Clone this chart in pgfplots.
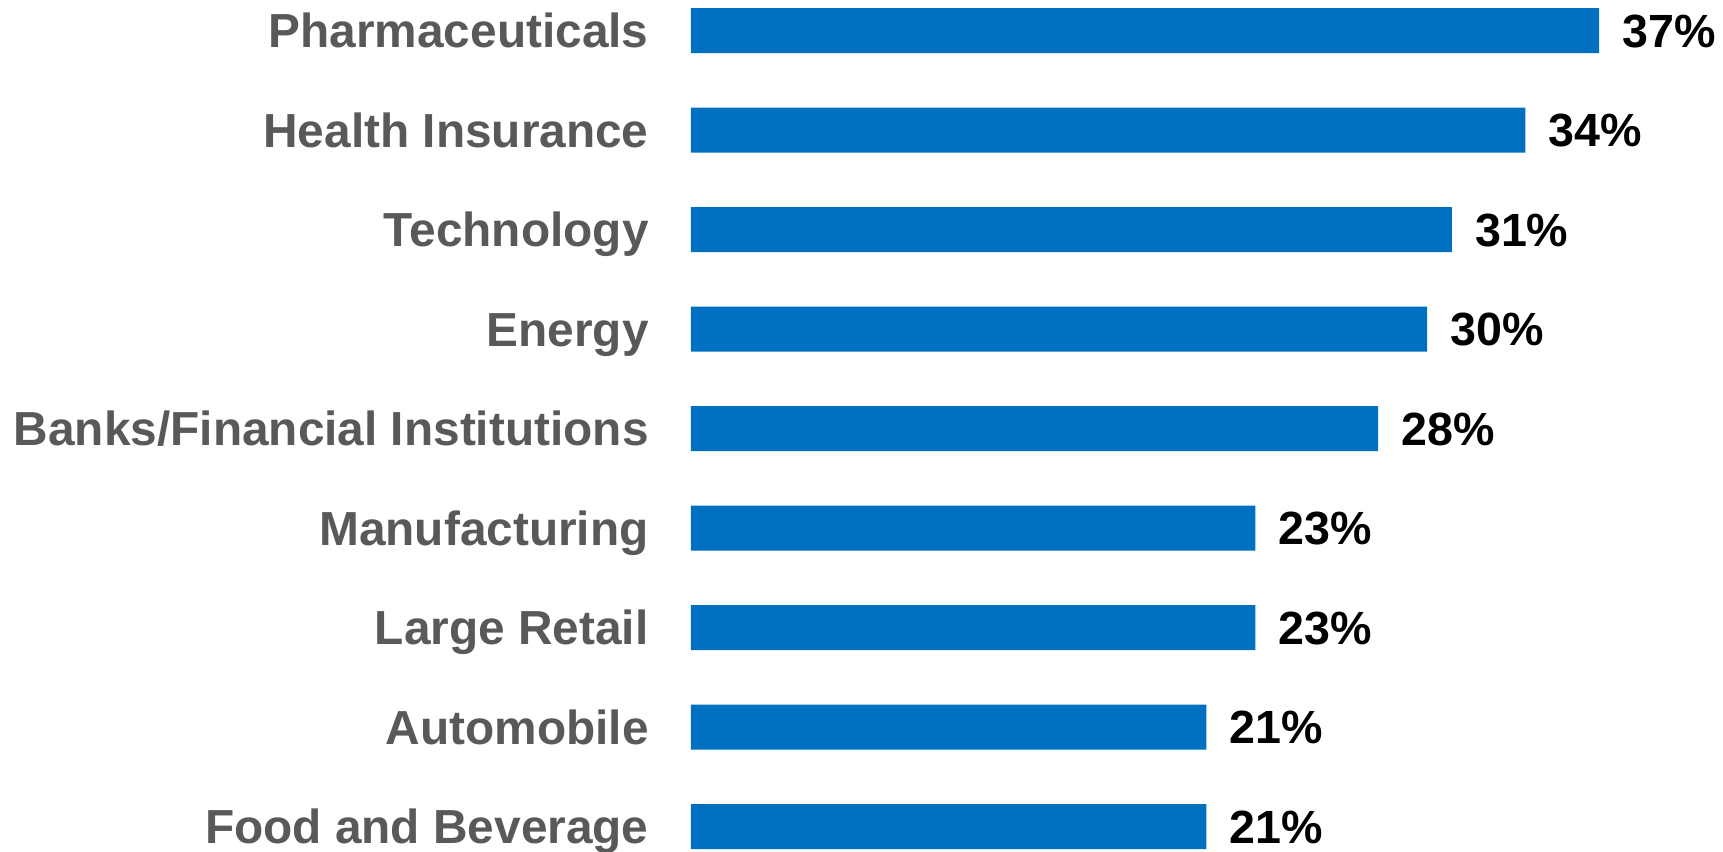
\documentclass[border=0pt]{standalone}
\usepackage{pgfplots}
\pgfplotsset{compat=1.18}
\usepackage{fontspec}
\setmainfont{Liberation Sans}
\usetikzlibrary{calc}
\definecolor{barblue}{HTML}{0070C0}
\definecolor{labgrey}{HTML}{595959}
\begin{document}
\begin{tikzpicture}
\begin{axis}[name=ax, scale only axis, width=454pt, height=425.5pt,
  xmin=0, xmax=37, ymin=-0.3065, ymax=8.246, y dir=reverse,
  xbar, bar width=22.5pt, clip=false,
  hide x axis,
  /pgf/number format/assume math mode=true,
  y axis line style={draw=none}, ytick style={draw=none}, major tick length=0pt,
  ytick={0,...,8},
  yticklabels={Pharmaceuticals,Health Insurance,Technology,Energy,Banks/Financial Institutions,Manufacturing,Large Retail,Automobile,Food and Beverage},
  yticklabel style={font=\fontsize{23.9}{28}\selectfont\bfseries, color=labgrey, inner sep=0pt, anchor=base east, xshift=-21pt, yshift=-8.5pt},
  point meta=x,
  nodes near coords={\pgfmathprintnumber{\pgfplotspointmeta}\%},
  nodes near coords style={font=\fontsize{23.3}{28}\selectfont\bfseries, color=black, inner sep=0pt, anchor=base west, xshift=11.5pt, yshift=-8.3pt},
]
\addplot[fill=barblue, draw=none] coordinates {(37,0) (34,1) (31,2) (30,3) (28,4) (23,5) (23,6) (21,7) (21,8)};
\end{axis}
\pgfresetboundingbox
\path ($(ax.south west)+(-345.5pt,0)$) rectangle ($(ax.north east)+(62pt,0)$);
\end{tikzpicture}
\end{document}
